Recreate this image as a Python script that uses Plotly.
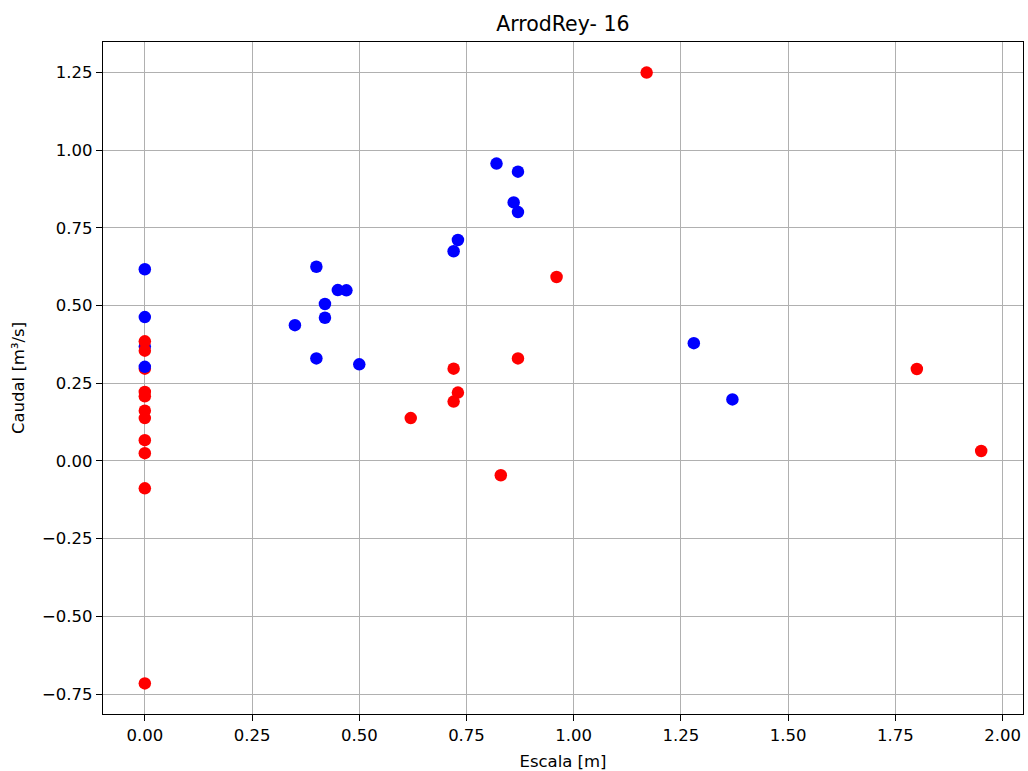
import plotly.graph_objects as go

# Mediciones de escala y caudal, en el orden en que se dibujan
escala = [0.00,
          0.00, 0.00, 0.00, 0.00, 0.00, 0.00, 0.00, 0.00, 0.00, 0.00, 0.00,
          0.62, 0.72, 0.72, 0.73, 0.83, 0.87, 0.96, 1.17, 1.80, 1.95,
          0.00, 0.00, 0.00, 0.35, 0.40, 0.40, 0.42, 0.42, 0.45, 0.47, 0.50,
          0.72, 0.73, 0.82, 0.86, 0.87, 0.87, 1.28, 1.37]
caudal = [0.368,
          0.385, 0.355, 0.297, 0.222, 0.208, 0.162, 0.138, 0.067, 0.025, -0.088, -0.716,
          0.138, 0.297, 0.191, 0.220, -0.046, 0.330, 0.592, 1.250, 0.296, 0.032,
          0.617, 0.463, 0.303, 0.437, 0.625, 0.330, 0.505, 0.461, 0.550, 0.549, 0.311,
          0.675, 0.711, 0.957, 0.832, 0.931, 0.801, 0.379, 0.198]
grupo = ["azul"] + ["rojo"] * 21 + ["azul"] * 19

colores = {"azul": "#0000ff", "rojo": "#ff0000"}

x_ticks = [0.0, 0.25, 0.5, 0.75, 1.0, 1.25, 1.5, 1.75, 2.0]
y_ticks = [-0.75, -0.5, -0.25, 0.0, 0.25, 0.5, 0.75, 1.0, 1.25]

FONT = "DejaVu Sans"

fig = go.Figure()
fig.add_trace(go.Scatter(
    x=escala, y=caudal, mode="markers",
    marker=dict(size=12.5, color=[colores[g] for g in grupo], line=dict(width=0)),
    showlegend=False, hoverinfo="x+y",
))

# Márgenes del 5 % alrededor de los datos
xmin, xmax = min(escala), max(escala)
ymin, ymax = min(caudal), max(caudal)
xpad = 0.05 * (xmax - xmin)
ypad = 0.05 * (ymax - ymin)

axis_common = dict(
    showline=True, linecolor="black", linewidth=1.3, mirror=True,
    ticks="outside", ticklen=6, tickwidth=1.3, tickcolor="black",
    showgrid=True, gridcolor="#b0b0b0", gridwidth=1.3,
    zeroline=False, tickformat=".2f", automargin=False,
    tickfont=dict(family=FONT, size=16.5, color="black"),
    title_font=dict(family=FONT, size=16.5, color="black"),
)

fig.update_layout(
    width=1028, height=771,
    margin=dict(l=103, r=5, t=42, b=57),
    paper_bgcolor="white", plot_bgcolor="white",
    title=dict(text="ArrodRey- 16", x=0.5475, xanchor="center",
               y=1 - 24 / 771, yanchor="middle", yref="container",
               font=dict(family=FONT, size=20.5, color="black")),
    xaxis=dict(range=[xmin - xpad, xmax + xpad], tickvals=x_ticks,
               title=dict(text="Escala [m]", standoff=11), **axis_common),
    yaxis=dict(range=[ymin - ypad, ymax + ypad], tickvals=y_ticks,
               title=dict(text="Caudal [m³/s]", standoff=13), **axis_common),
)

fig.write_html("out.html", post_script="document.body.style.margin='0';")
